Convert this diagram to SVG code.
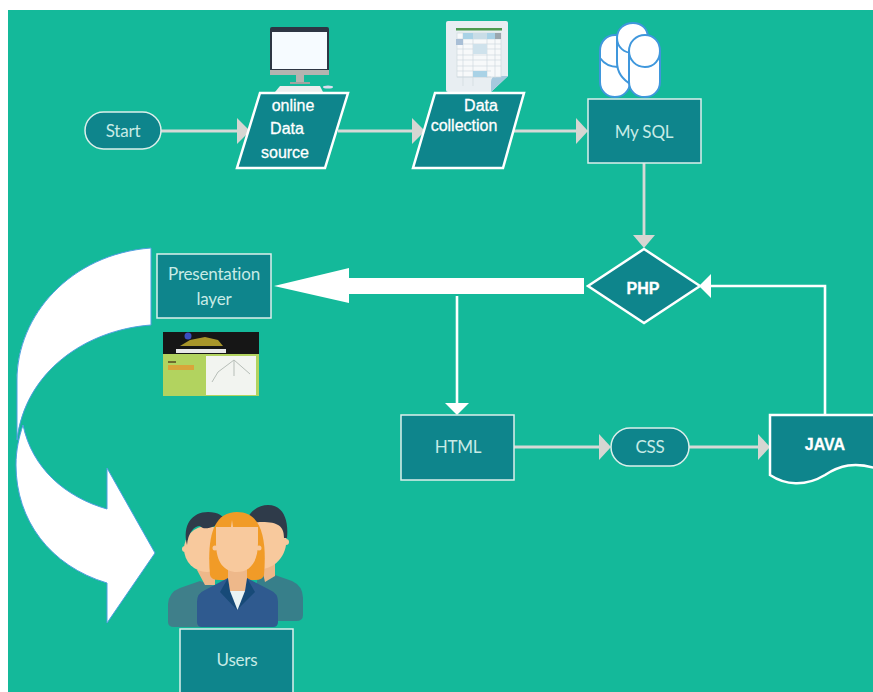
<svg xmlns="http://www.w3.org/2000/svg" width="873" height="692" viewBox="0 0 873 692">
<style>
.n{fill:#0e858c;stroke:#dcefeb;stroke-width:1.5}
.w{fill:#0e858c;stroke:#fff;stroke-width:2.5}
.l{font-family:Lato,"Liberation Sans",sans-serif;font-size:17px;letter-spacing:-.2px;fill:#c8ebe6;text-anchor:middle}
.a{font-family:"Liberation Sans",Arial,sans-serif;font-size:16px;fill:#fff;stroke:#fff;stroke-width:.3;text-anchor:middle}
.c{fill:none;stroke:#d6d9d6;stroke-width:2.8}
.h{fill:#d6d6d2}
.wc{fill:none;stroke:#fff;stroke-width:2.6}
.db{fill:#fff;stroke:#3f97dc;stroke-width:2}
</style>
<rect width="873" height="692" fill="#fff"/>
<rect x="8" y="10" width="865" height="682" fill="#14b99a"/>
<g id="connectors">
<path class="c" d="M161 131H238"/><polygon class="h" points="237,118 250,131 237,144"/>
<path class="c" d="M338 131H413"/><polygon class="h" points="412,118 425,131 412,144"/>
<path class="c" d="M514 131H576"/><polygon class="h" points="576,118 588,131 576,144"/>
<path class="c" d="M644 163V235"/><polygon class="h" points="633,235 655,235 644,248"/>
<path class="wc" d="M457 296V404"/><polygon fill="#fff" points="445,403 469,403 457,415"/>
<path class="c" d="M514 447H600"/><polygon class="h" points="599,434 611,447 599,460"/>
<path class="c" d="M689 447H759"/><polygon class="h" points="758,434 770,447 758,460"/>
<path class="wc" d="M825 415V286H710"/><polygon fill="#fff" points="711,274 711,298 699,286"/>
<polygon fill="#fff" points="584,278 349,278 349,268 274,286 349,303 349,294 584,294"/>
<path id="curve" fill="#fff" stroke="#4f9fe0" stroke-width="1" d="M151 248C70 254 17 316 17 380L17 440C25 372 85 330 151 325ZM23 425C32 468 65 497 107 509V468L155 553L107 623V583C50 566 16 520 16 465C16 450 19 437 23 425Z"/>
</g>
<g id="start"><rect class="n" x="85" y="112" width="76" height="37" rx="18.5"/><text class="l" x="123" y="137">Start</text></g>
<g id="computer">
<rect x="270" y="27" width="59" height="48" rx="2" fill="#2e3644"/>
<rect x="272" y="32" width="55" height="37" fill="#f6fbff"/>
<rect x="270" y="70" width="59" height="5" fill="#b4b4b0"/>
<rect x="296" y="75" width="8" height="8" fill="#b4b4b0"/>
<rect x="290" y="82" width="20" height="2" fill="#a3a3a0"/>
<path d="M275 92L280 86H320L323 92Z" fill="#eceeee"/>
<ellipse cx="328" cy="87" rx="5" ry="1.500" fill="#dde"/>
</g>
<g id="spreadsheet">
<path d="M448 21H506Q508 21 508 23V76L491 92H448Q446 92 446 90V23Q446 21 448 21Z" fill="#e8eef2"/>
<path d="M491 92L508 76H497Q491 76 491 82Z" fill="#a5c9de"/>
<rect x="456" y="28" width="46" height="2.500" fill="#4d9a4f"/>
<rect x="457" y="33" width="44" height="44" fill="#f7f9fa" stroke="#cfd9de" stroke-width="0.700"/>
<path d="M463 33V86M473 33V86M487 33V78M495 33V78M457 39H501M457 44H501M457 49H501M457 55H501M457 60H501M457 66H501M457 71H491M457 77H491" stroke="#cfd9de" stroke-width="0.700" fill="none"/>
<rect x="463" y="33" width="10" height="6" fill="#a9d2e6"/><rect x="473" y="33" width="14" height="6" fill="#c9dde7"/><rect x="487" y="33" width="8" height="6" fill="#a9d2e6"/><rect x="495" y="33" width="6" height="6" fill="#9aa7ae"/>
<rect x="456" y="39" width="7" height="6" fill="#a9bfd6"/><rect x="473" y="44" width="14" height="10" fill="#cfe2ec"/><rect x="473" y="71" width="14" height="6" fill="#a9d2e6"/>
</g>
<g id="online-data-source"><polygon class="w" points="260,93 348,93 325,168 237,168"/><text class="a" x="293" y="111">online</text><text class="a" x="287" y="134">Data</text><text class="a" x="285" y="158">source</text></g>
<g id="data-collection"><polygon class="w" points="435,93 524,93 503,168 413,168"/><text class="a" x="481" y="111">Data</text><text class="a" x="464" y="131">collection</text></g>
<g id="database">
<path class="db" d="M600 51C600 41 607 35 615 35C623 35 630 41 630 51V82C630 91 623 97 615 97C607 97 600 91 600 82Z"/>
<path class="db" fill="none" d="M600 58C605 65 612 67 618 67"/>
<path class="db" d="M617 38C617 29 624 23 633 23C642 23 648 29 648 38V85H632C623 80 617 72 617 62Z"/>
<path class="db" fill="none" d="M617 38C617 47 624 53 633 53H640"/>
<path class="db" d="M629 51C629 42 636 35 645 35C654 35 660 42 660 51V82C660 91 653 97 645 97C636 97 629 91 629 82Z"/>
<path class="db" fill="none" d="M629 51C629 60 636 67 645 67C654 67 660 60 660 51"/>
</g>
<g id="my-sql"><rect class="n" x="588" y="99" width="113" height="64"/><text class="l" x="644" y="138">My SQL</text></g>
<g id="php"><polygon class="w" points="644,249 700,286 644,323 588,286"/><text class="a" x="643" y="294" font-weight="bold">PHP</text></g>
<g id="presentation-layer"><rect class="n" x="157" y="254" width="114" height="64"/><text class="l" x="214" y="280">Presentation</text><text class="l" x="214" y="305">layer</text></g>
<g id="screenshot">
<rect x="163" y="332" width="96" height="64" fill="#b2d35f"/>
<rect x="163" y="332" width="96" height="22" fill="#161616"/>
<rect x="176" y="349" width="50" height="4" fill="#e8e8e8"/>
<path d="M180 346L190 340L205 337L218 340L223 346Z" fill="#a8962a"/><circle cx="188" cy="336" r="3.500" fill="#3a4fc0"/>
<rect x="206" y="356" width="50" height="39" fill="#f2f4f0"/>
<path d="M234 360L218 372L212 382M234 360V376M234 360L250 374" stroke="#b7beb8" fill="none"/>
<rect x="168" y="361" width="8" height="2" fill="#6d6a30"/><rect x="168" y="365" width="26" height="5" fill="#d9a53a"/>
</g>
<g id="html"><rect class="n" x="401" y="415" width="113" height="65"/><text class="l" x="458" y="453">HTML</text></g>
<g id="css"><rect class="n" x="611" y="428" width="78" height="38" rx="19"/><text class="l" x="650" y="453">CSS</text></g>
<g id="java"><path class="w" d="M770 415H875V468C855 462 840 465 825 475C805 487 785 485 770 475Z"/><text class="a" x="825" y="450" font-weight="bold">JAVA</text></g>
<g id="people">
<path d="M258 576L272 574L292 581Q303 586 303 598V615Q303 621 296 621H250Z" fill="#377f8a"/>
<path d="M260 560H275V576L265 582Z" fill="#eeb88a"/>
<path d="M245 540C245 520 255 512 268 512C280 512 288 525 286 545C283 565 262 575 250 565Z" fill="#f8c99d"/>
<circle cx="286" cy="542" r="3" fill="#f8c99d"/>
<path d="M245 527C247 512 258 505 268 505C282 505 289 518 287 538L284 538C284 526 278 522 262 522C252 522 248 524 245 527Z" fill="#2f3b4a"/>
<path d="M168 622V604Q169 592 180 588L200 581L225 590V627H174Q168 627 168 622Z" fill="#3f7f8a"/>
<path d="M197 570H215V585H205Z" fill="#eeb88a"/>
<circle cx="207" cy="549" r="23" fill="#f8c99d"/>
<circle cx="185" cy="549" r="3" fill="#f8c99d"/>
<path d="M187 545C182 525 192 512 208 512C218 512 224 516 226 522C215 525 205 532 200 526C194 526 188 533 187 545Z" fill="#2f3b4a"/>
<path d="M210 575C207 540 212 512 237 512C262 512 267 540 264 575Q263 580 255 580H219Q211 580 210 575Z" fill="#f19b27"/>
<path d="M228 560H247V590H228Z" fill="#eeb88a"/>
<path d="M216 527H231L232 520L233 527H258V543C258 562 250 572 237 572C224 572 216 562 216 543Z" fill="#f8c99d"/>
<circle cx="215" cy="548" r="2.500" fill="#f8c99d"/><circle cx="259" cy="548" r="2.500" fill="#f8c99d"/>
<path d="M197 622V602Q197 593 205 590L228 578L237 590L247 578L270 590Q278 593 278 602V622Q278 627 273 627H202Q197 627 197 622Z" fill="#2f5a8f"/>
<path d="M228 578L220 592L237 610L255 592L247 578L245 591H230Z" fill="#174a78"/>
<path d="M228 578H247L245 591H230Z" fill="#eeb88a"/>
<path d="M230 591H245L237.500 610Z" fill="#eaf4f5"/>
</g>
<g id="users"><path class="n" d="M180 692V629H293V692"/><text class="l" x="237" y="666">Users</text></g>
</svg>
